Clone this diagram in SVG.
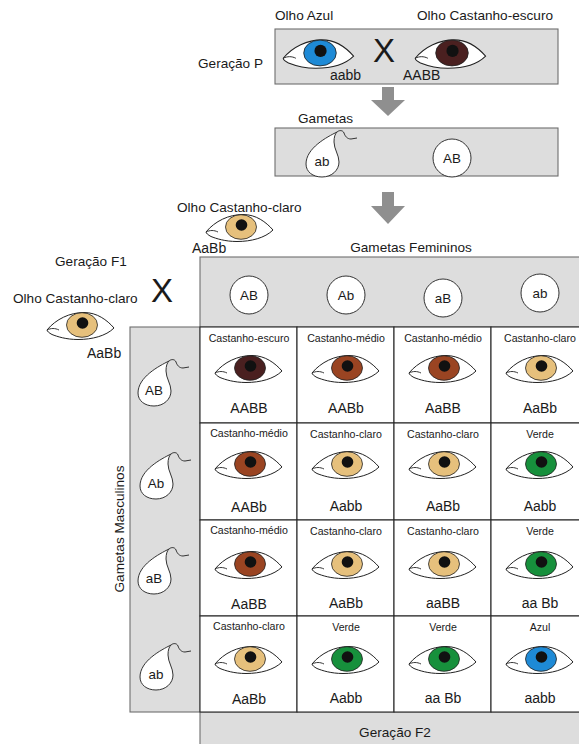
<svg xmlns="http://www.w3.org/2000/svg" xmlns:xlink="http://www.w3.org/1999/xlink" width="579" height="744" viewBox="0 0 579 744">
  <style>
    text { font-family: "Liberation Sans", Arial, sans-serif; fill: #1a1a1a; }
    .hdr { font-size: 13.6px; }
    .lbl { font-size: 10.6px; text-anchor: middle; }
    .geno { font-size: 14px; text-anchor: middle; }
    .gam { font-size: 13.4px; text-anchor: middle; }
    .cross { font-size: 33px; }
    .panel { fill: #dddddd; stroke: #6e6e6e; stroke-width: 1.1; }
    .cell { fill: #ffffff; stroke: #2a2a2a; stroke-width: 1.1; }
    .ovum { fill: #ffffff; stroke: #333; stroke-width: 1; }
    .arrow { fill: #8f8f8f; }
  </style>
  <defs>
    <!-- eye: outline, iris (takes the colour of the use element), pupil -->
    <g id="eye">
      <path d="M-35,5 C-26,-6 -12,-12.5 2,-12.5 C15,-12.5 25,-5 32,3 C24,11 10,14.5 -4,14.5 C-16,14.5 -25,11.5 -30,9.5 C-33,8 -35,6 -35,5 Z" fill="#fff" stroke="#222" stroke-width="1"/>
      <path d="M-35,5 C-31,3 -27,3 -23,5" fill="none" stroke="#222" stroke-width="0.9"/>
      <ellipse cx="0" cy="0" rx="15.5" ry="12.3" fill="currentColor" stroke="#222" stroke-width="0.8"/>
      <circle cx="0.5" cy="-2" r="5.8" fill="#111"/>
    </g>
    <!-- sperm cell: head with tail, centred on the head -->
    <g id="sperm">
      <path d="M14,-29 C4,-24 -17,-13 -17,3 C-17,11 -10,16 -1,16 C9,16 16,9 16,1 C16,-6 11,-12 11,-19 C11,-24 12,-27 14,-29 Z" fill="#fff" stroke="#333" stroke-width="1"/>
      <path d="M14,-29 C16,-31 20,-31 21,-28 C22,-25 24,-22 28,-22 L34,-23" fill="none" stroke="#333" stroke-width="1"/>
    </g>
  </defs>

  <!-- Parental generation -->
  <g id="geracao-p">
    <text class="hdr" x="198" y="68">Geração P</text>
    <text class="hdr" x="275" y="20">Olho Azul</text>
    <text class="hdr" x="417" y="20">Olho Castanho-escuro</text>
    <rect class="panel" x="275" y="29" width="283" height="55"/>
    <use href="#eye" transform="translate(320,53) scale(1.05)" color="#1e8ad6"/>
    <use href="#eye" transform="translate(452,53) scale(1.05)" color="#4a2020"/>
    <text class="cross" x="373" y="62">X</text>
    <text class="hdr" x="330" y="80" style="font-size:14px">aabb</text>
    <text class="hdr" x="403" y="80" style="font-size:14px">AABB</text>
  </g>

  <!-- Gametes of the parental generation -->
  <g id="gametas-p">
    <text class="hdr" x="298" y="123">Gametas</text>
    <rect class="panel" x="275" y="128" width="283" height="48"/>
    <use href="#sperm" x="323" y="161"/>
    <text class="gam" x="322" y="166">ab</text>
    <circle class="ovum" cx="452" cy="158" r="19"/>
    <text class="gam" x="452" y="163">AB</text>
  </g>

  <!-- Arrows between stages -->
  <g id="connectors">
    <polygon class="arrow" points="382,87 394,87 394,100 405,100 388,116 371,100 382,100"/>
    <polygon class="arrow" points="382,192 394,192 394,206 405,206 388,224 371,206 382,206"/>
  </g>

  <!-- F1 generation -->
  <g id="geracao-f1">
    <text class="hdr" x="177" y="212">Olho Castanho-claro</text>
    <use href="#eye" transform="translate(241,227)" color="#e6c07c"/>
    <text class="hdr" x="192" y="253" style="font-size:14px">AaBb</text>
    <text class="hdr" x="55" y="266">Geração F1</text>
    <text class="cross" x="151" y="302">X</text>
    <text class="hdr" x="13" y="303">Olho Castanho-claro</text>
    <use href="#eye" transform="translate(82,325)" color="#e6c07c"/>
    <text class="hdr" x="87" y="358" style="font-size:14px">AaBb</text>
  </g>

  <!-- Female gametes -->
  <g id="gametas-femininos">
    <text class="hdr" x="411" y="252" text-anchor="middle">Gametas Femininos</text>
    <rect class="panel" x="200" y="257" width="390" height="70"/>
    <circle class="ovum" cx="249" cy="295" r="19"/>
    <text class="gam" x="249" y="300">AB</text>
    <circle class="ovum" cx="346" cy="295" r="19"/>
    <text class="gam" x="346" y="300">Ab</text>
    <circle class="ovum" cx="443" cy="298" r="19"/>
    <text class="gam" x="443" y="303">aB</text>
    <circle class="ovum" cx="540" cy="293" r="19"/>
    <text class="gam" x="540" y="298">ab</text>
  </g>

  <!-- Male gametes -->
  <g id="gametas-masculinos">
    <rect class="panel" x="130" y="327" width="70" height="385"/>
    <text class="hdr" transform="translate(124,529) rotate(-90)" text-anchor="middle">Gametas Masculinos</text>
    <use href="#sperm" x="155" y="390"/>
    <text class="gam" x="154" y="395">AB</text>
    <use href="#sperm" x="157" y="483"/>
    <text class="gam" x="156" y="488">Ab</text>
    <use href="#sperm" x="155" y="578"/>
    <text class="gam" x="154" y="583">aB</text>
    <use href="#sperm" x="157" y="674"/>
    <text class="gam" x="156" y="679">ab</text>
  </g>

  <!-- F2 generation label -->
  <g id="geracao-f2">
    <rect class="panel" x="200" y="712" width="390" height="40"/>
    <text class="hdr" x="395" y="737" text-anchor="middle">Geração F2</text>
  </g>

  <!-- Punnett square -->
  <g id="quadro">
    <g id="row-AB">
      <rect class="cell" x="200" y="327" width="97" height="96"/>
      <rect class="cell" x="297" y="327" width="97" height="96"/>
      <rect class="cell" x="394" y="327" width="97" height="96"/>
      <rect class="cell" x="491" y="327" width="97" height="96"/>
      <text class="lbl" x="249" y="342">Castanho-escuro</text>
      <text class="lbl" x="346" y="342">Castanho-médio</text>
      <text class="lbl" x="443" y="342">Castanho-médio</text>
      <text class="lbl" x="540" y="342">Castanho-claro</text>
      <use href="#eye" transform="translate(250,368)" color="#4a2020"/>
      <use href="#eye" transform="translate(347,368)" color="#9a4422"/>
      <use href="#eye" transform="translate(444,368)" color="#9a4422"/>
      <use href="#eye" transform="translate(541,368)" color="#e6c07c"/>
      <text class="geno" x="249" y="413">AABB</text>
      <text class="geno" x="346" y="413">AABb</text>
      <text class="geno" x="443" y="413">AaBB</text>
      <text class="geno" x="540" y="413">AaBb</text>
    </g>
    <g id="row-Ab">
      <rect class="cell" x="200" y="423" width="97" height="97"/>
      <rect class="cell" x="297" y="423" width="97" height="97"/>
      <rect class="cell" x="394" y="423" width="97" height="97"/>
      <rect class="cell" x="491" y="423" width="97" height="97"/>
      <text class="lbl" x="249" y="437">Castanho-médio</text>
      <text class="lbl" x="346" y="438">Castanho-claro</text>
      <text class="lbl" x="443" y="438">Castanho-claro</text>
      <text class="lbl" x="540" y="438">Verde</text>
      <use href="#eye" transform="translate(250,464)" color="#9a4422"/>
      <use href="#eye" transform="translate(347,464)" color="#e6c07c"/>
      <use href="#eye" transform="translate(444,464)" color="#e6c07c"/>
      <use href="#eye" transform="translate(541,464)" color="#17903c"/>
      <text class="geno" x="249" y="512">AABb</text>
      <text class="geno" x="346" y="511">Aabb</text>
      <text class="geno" x="443" y="511">AaBb</text>
      <text class="geno" x="540" y="511">Aabb</text>
    </g>
    <g id="row-aB">
      <rect class="cell" x="200" y="520" width="97" height="96"/>
      <rect class="cell" x="297" y="520" width="97" height="96"/>
      <rect class="cell" x="394" y="520" width="97" height="96"/>
      <rect class="cell" x="491" y="520" width="97" height="96"/>
      <text class="lbl" x="249" y="534">Castanho-médio</text>
      <text class="lbl" x="346" y="535">Castanho-claro</text>
      <text class="lbl" x="443" y="535">Castanho-claro</text>
      <text class="lbl" x="540" y="535">Verde</text>
      <use href="#eye" transform="translate(250,564)" color="#9a4422"/>
      <use href="#eye" transform="translate(347,564)" color="#e6c07c"/>
      <use href="#eye" transform="translate(444,564)" color="#e6c07c"/>
      <use href="#eye" transform="translate(541,564)" color="#17903c"/>
      <text class="geno" x="249" y="609">AaBB</text>
      <text class="geno" x="346" y="608">AaBb</text>
      <text class="geno" x="443" y="608">aaBB</text>
      <text class="geno" x="540" y="608">aa Bb</text>
    </g>
    <g id="row-ab">
      <rect class="cell" x="200" y="616" width="97" height="96"/>
      <rect class="cell" x="297" y="616" width="97" height="96"/>
      <rect class="cell" x="394" y="616" width="97" height="96"/>
      <rect class="cell" x="491" y="616" width="97" height="96"/>
      <text class="lbl" x="249" y="630">Castanho-claro</text>
      <text class="lbl" x="346" y="631">Verde</text>
      <text class="lbl" x="443" y="631">Verde</text>
      <text class="lbl" x="540" y="631">Azul</text>
      <use href="#eye" transform="translate(250,659)" color="#e6c07c"/>
      <use href="#eye" transform="translate(347,659)" color="#17903c"/>
      <use href="#eye" transform="translate(444,659)" color="#17903c"/>
      <use href="#eye" transform="translate(541,659)" color="#1e8ad6"/>
      <text class="geno" x="249" y="704">AaBb</text>
      <text class="geno" x="346" y="703">Aabb</text>
      <text class="geno" x="443" y="703">aa Bb</text>
      <text class="geno" x="540" y="703">aabb</text>
    </g>
  </g>
</svg>
